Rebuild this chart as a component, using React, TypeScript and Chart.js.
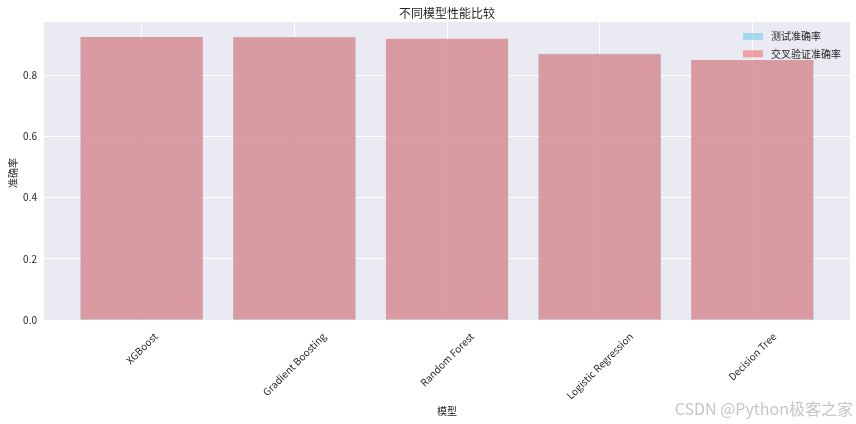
import React, { useEffect, useRef } from "react";
import { Chart, registerables } from "chart.js";

Chart.register(...registerables);

const categories = ["XGBoost", "Gradient Boosting", "Random Forest", "Logistic Regression", "Decision Tree"];
const testAccuracy = [0.925, 0.924, 0.918, 0.87, 0.85];
const cvAccuracy = [0.925, 0.924, 0.919, 0.869, 0.85];
const yTickValues = [0, 0.2, 0.4, 0.6, 0.8];
const seriesLabels = ["测试准确率", "交叉验证准确率"];
const chartTitle = "不同模型性能比较";
const xTitle = "模型";
const yTitle = "准确率";
const watermark = "CSDN @Python极客之家";

const FONT = '"Noto Sans CJK SC", "Microsoft YaHei", sans-serif';
const TEXT = "#262626";

const decor = {
  id: "decor",
  beforeDraw(chart: any) {
    const { ctx, chartArea: a } = chart;
    ctx.save();
    ctx.fillStyle = "#ffffff";
    ctx.fillRect(0, 0, chart.width, chart.height);
    ctx.fillStyle = "#EAEAF2";
    ctx.fillRect(a.left, a.top, a.right - a.left, a.bottom - a.top);
    ctx.restore();
  },
  afterDraw(chart: any) {
    const { ctx, chartArea: a } = chart;
    const xs = chart.scales.x;
    ctx.save();
    ctx.fillStyle = TEXT;
    ctx.textAlign = "center";
    ctx.textBaseline = "middle";
    // title
    ctx.font = `12px ${FONT}`;
    ctx.fillText(chartTitle, (a.left + a.right) / 2, a.top - 9);
    // x tick labels, rotated 45 deg, centered on tick
    ctx.font = `10px ${FONT}`;
    categories.forEach((c, i) => {
      const px = xs.getPixelForValue(i);
      const w = ctx.measureText(c).width;
      const half = ((w + 10) * Math.SQRT1_2) / 2;
      ctx.save();
      ctx.translate(px, a.bottom + 11 + half);
      ctx.rotate(-Math.PI / 4);
      ctx.fillText(c, 0, 0);
      ctx.restore();
    });
    // x title
    ctx.fillText(xTitle, (a.left + a.right) / 2, a.bottom + 91);
    // y title
    ctx.save();
    ctx.translate(13, (a.top + a.bottom) / 2 + 2);
    ctx.rotate(-Math.PI / 2);
    ctx.fillText(yTitle, 0, 0);
    ctx.restore();
    // legend
    ctx.textAlign = "left";
    chart.data.datasets.forEach((ds: any, i: number) => {
      const y = a.top + 11 + i * 17.3;
      ctx.fillStyle = ds.backgroundColor;
      ctx.fillRect(a.right - 107, y, 20, 7);
      ctx.fillStyle = TEXT;
      ctx.fillText(ds.label, a.right - 79, y + 3.5);
    });
    // watermark
    ctx.font = `16px ${FONT}`;
    ctx.textAlign = "right";
    ctx.fillStyle = "rgba(160,160,160,0.6)";
    ctx.fillText(watermark, chart.width - 3, 409);
    ctx.restore();
  },
};

export default function App() {
  const ref = useRef<HTMLCanvasElement | null>(null);

  useEffect(() => {
    document.body.style.margin = "0";
    const canvas = ref.current!;
    const chart = new Chart(canvas, {
      type: "bar",
      data: {
        datasets: [
          {
            label: seriesLabels[0],
            data: categories.map((_, i) => ({ x: i, y: testAccuracy[i] })),
            backgroundColor: "rgba(135,206,235,0.7)",
            borderWidth: 0,
            grouped: false,
            categoryPercentage: 0.8,
            barPercentage: 1,
            order: 2,
          } as any,
          {
            label: seriesLabels[1],
            data: categories.map((_, i) => ({ x: i, y: cvAccuracy[i] })),
            backgroundColor: "rgba(240,128,128,0.7)",
            borderWidth: 0,
            grouped: false,
            categoryPercentage: 0.8,
            barPercentage: 1,
            order: 1,
          } as any,
        ],
      },
      options: {
        responsive: false,
        animation: false,
        devicePixelRatio: 1,
        layout: { padding: { left: 0, right: 6, top: 22, bottom: 0 } },
        plugins: {
          legend: { display: false },
          title: { display: false },
          tooltip: { enabled: false },
        },
        scales: {
          x: {
            type: "linear",
            offset: false,
            min: -0.64,
            max: categories.length - 1 + 0.64,
            afterBuildTicks: (s: any) => {
              s.ticks = categories.map((_, i) => ({ value: i }));
            },
            afterFit: (s: any) => {
              s.height = 104;
            },
            ticks: { display: false },
            grid: { color: "#ffffff", lineWidth: 1, drawTicks: false, offset: false },
            border: { display: false },
          },
          y: {
            type: "linear",
            min: 0,
            max: 0.974,
            afterBuildTicks: (s: any) => {
              s.ticks = yTickValues.map((v) => ({ value: v }));
            },
            afterFit: (s: any) => {
              s.width = 44;
            },
            ticks: {
              includeBounds: false,
              padding: 7,
              color: TEXT,
              font: { family: FONT, size: 10 },
              callback: (v: any) => Number(v).toFixed(1),
            },
            grid: { color: "#ffffff", lineWidth: 1, drawTicks: false },
            border: { display: false },
          },
        },
      } as any,
      plugins: [decor],
    });
    return () => chart.destroy();
  }, []);

  return (
    <div style={{ width: 856, height: 424 }}>
      <canvas ref={ref} width={856} height={424} style={{ display: "block" }} />
    </div>
  );
}
